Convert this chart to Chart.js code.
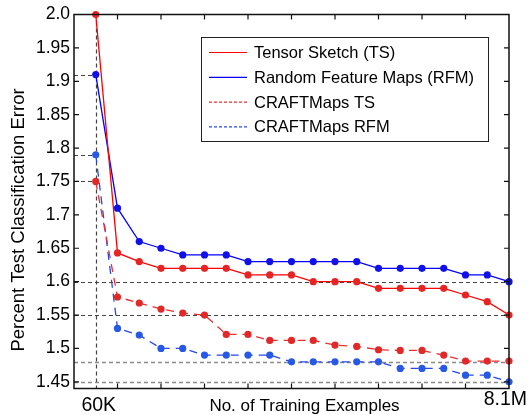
<!DOCTYPE html>
<html>
<head>
<meta charset="utf-8">
<script src="https://cdn.jsdelivr.net/npm/chart.js@4/dist/chart.umd.min.js"></script>
<style>
  html, body { margin: 0; padding: 0; background: #fff; }
  #wrap { width: 528px; height: 415px; }
</style>
</head>
<body>
<div id="wrap"><canvas id="errChart" width="528" height="415"></canvas></div>
<script>
// training set size steps (60K ... 8.1M), one point per step
const steps = [0, 1, 2, 3, 4, 5, 6, 7, 8, 9, 10, 11, 12, 13, 14, 15, 16, 17, 18, 19];
const xTickValues = [0, 19];
const xTickLabels = ['60K', '8.1M'];
const xMinorTicks = [1, 3, 5, 7, 9, 11, 13, 15, 17];

const yTickValues = [1.45, 1.5, 1.55, 1.6, 1.65, 1.7, 1.75, 1.8, 1.85, 1.9, 1.95, 2.0];
const yTickLabels = ['1.45', '1.5', '1.55', '1.6', '1.65', '1.7', '1.75', '1.8', '1.85', '1.9', '1.95', '2.0'];

const seriesNames = ['Tensor Sketch (TS)', 'Random Feature Maps (RFM)', 'CRAFTMaps TS', 'CRAFTMaps RFM'];
const tsErr = [2.0, 1.643, 1.63, 1.62, 1.62, 1.62, 1.62, 1.61, 1.61, 1.61, 1.60, 1.60, 1.60, 1.59, 1.59, 1.59, 1.59, 1.58, 1.57, 1.55];
const rfmErr = [1.91, 1.71, 1.66, 1.65, 1.64, 1.64, 1.64, 1.63, 1.63, 1.63, 1.63, 1.63, 1.63, 1.62, 1.62, 1.62, 1.62, 1.61, 1.61, 1.60];
const craftTsErr = [1.75, 1.577, 1.568, 1.559, 1.553, 1.55, 1.521, 1.521, 1.512, 1.512, 1.512, 1.505, 1.503, 1.498, 1.497, 1.497, 1.49, 1.481, 1.481, 1.481];
const craftRfmErr = [1.79, 1.53, 1.52, 1.50, 1.50, 1.49, 1.49, 1.49, 1.49, 1.48, 1.48, 1.48, 1.48, 1.48, 1.47, 1.47, 1.47, 1.46, 1.46, 1.45];

// dashed reference levels
const fullGuidesDark = [1.6, 1.55];
const fullGuidesLight = [1.48, 1.45];
const shortGuides = [1.91, 1.79, 1.75];

const FONT = "'Liberation Sans', Arial, sans-serif";

function toPoints(vals) {
    return vals.map((v, i) => ({ x: steps[i], y: v }));
}

const lineStyles = [
    { line: 'rgb(255,0,0)', point: 'rgb(230,36,36)', dash: [] },
    { line: 'rgb(0,0,255)', point: 'rgb(16,16,235)', dash: [] },
    { line: 'rgb(232,48,48)', point: 'rgb(226,40,40)', dash: [8, 6] },
    { line: 'rgb(40,72,232)', point: 'rgb(40,88,230)', dash: [8, 6] }
];
const legendDash = [[], [], [3, 2], [3, 2]];

const allSeries = [tsErr, rfmErr, craftTsErr, craftRfmErr];

// guides + frame drawn with the scales
const framePlugin = {
    id: 'framePlugin',
    beforeDatasetsDraw(chart) {
        const { ctx, chartArea: a, scales: { x, y } } = chart;
        ctx.save();
        ctx.lineWidth = 1.2;
        ctx.setLineDash([4, 3]);
        const x0 = x.getPixelForValue(steps[0]);
        ctx.strokeStyle = '#444';
        fullGuidesDark.forEach(v => {
            const py = Math.round(y.getPixelForValue(v)) + 0.5;
            ctx.beginPath(); ctx.moveTo(a.left, py); ctx.lineTo(a.right, py); ctx.stroke();
        });
        shortGuides.forEach(v => {
            const py = Math.round(y.getPixelForValue(v)) + 0.5;
            ctx.beginPath(); ctx.moveTo(a.left, py); ctx.lineTo(x0, py); ctx.stroke();
        });
        ctx.beginPath(); ctx.moveTo(Math.round(x0) + 0.5, a.top); ctx.lineTo(Math.round(x0) + 0.5, a.bottom); ctx.stroke();
        ctx.strokeStyle = '#8a8a8a';
        ctx.lineWidth = 1.5;
        fullGuidesLight.forEach(v => {
            const py = Math.round(y.getPixelForValue(v)) + 0.5;
            ctx.beginPath(); ctx.moveTo(a.left, py); ctx.lineTo(a.right, py); ctx.stroke();
        });
        ctx.restore();
    },
    afterDatasetsDraw(chart) {
        const { ctx, chartArea: a, scales: { x, y } } = chart;
        ctx.save();
        ctx.strokeStyle = '#111';
        ctx.lineWidth = 1.5;
        ctx.setLineDash([]);
        ctx.strokeRect(a.left, a.top, a.right - a.left, a.bottom - a.top);
        // inward tick marks
        ctx.lineWidth = 1.2;
        yTickValues.forEach(v => {
            const py = y.getPixelForValue(v);
            ctx.beginPath();
            ctx.moveTo(a.left, py); ctx.lineTo(a.left + 5, py);
            ctx.moveTo(a.right, py); ctx.lineTo(a.right - 5, py);
            ctx.stroke();
        });
        xMinorTicks.forEach(v => {
            const px = x.getPixelForValue(v);
            ctx.beginPath();
            ctx.moveTo(px, a.bottom); ctx.lineTo(px, a.bottom - 5);
            ctx.moveTo(px, a.top); ctx.lineTo(px, a.top + 5);
            ctx.stroke();
        });

        // x tick labels
        ctx.fillStyle = '#000';
        ctx.font = '19.5px ' + FONT;
        ctx.textBaseline = 'alphabetic';
        ctx.textAlign = 'center';
        ctx.fillText(xTickLabels[0], x.getPixelForValue(xTickValues[0]) + 3, 411);
        ctx.textAlign = 'right';
        ctx.fillText(xTickLabels[1], x.getPixelForValue(xTickValues[1]) + 18, 405);

        // axis titles
        ctx.font = '17px ' + FONT;
        ctx.textAlign = 'center';
        ctx.fillText('No. of Training Examples', (a.left + a.right) / 2 + 13, 411);
        ctx.save();
        ctx.translate(19, 220);
        ctx.rotate(-Math.PI / 2);
        ctx.font = '18.5px ' + FONT;
        ctx.textBaseline = 'middle';
        ctx.fillText('Percent Test Classification Error', 0, 0);
        ctx.restore();

        // legend box
        const bx = 201, by = 37, bw = 287, bh = 104;
        ctx.fillStyle = '#fff';
        ctx.fillRect(bx, by, bw, bh);
        ctx.strokeStyle = '#222';
        ctx.lineWidth = 1;
        ctx.strokeRect(bx + 0.5, by + 0.5, bw, bh);
        ctx.font = '16.5px ' + FONT;
        ctx.textAlign = 'left';
        ctx.textBaseline = 'middle';
        seriesNames.forEach((name, i) => {
            const ry = by + 15.5 + i * 24.8;
            ctx.strokeStyle = lineStyles[i].line;
            ctx.lineWidth = 1.2;
            ctx.setLineDash(legendDash[i]);
            ctx.beginPath(); ctx.moveTo(209, ry); ctx.lineTo(247, ry); ctx.stroke();
            ctx.setLineDash([]);
            ctx.fillStyle = '#000';
            ctx.fillText(name, 254, ry + 1);
        });
        ctx.restore();
    }
};

new Chart(document.getElementById('errChart'), {
    type: 'line',
    data: {
        datasets: allSeries.map((vals, i) => ({
            label: seriesNames[i],
            data: toPoints(vals),
            borderColor: lineStyles[i].line,
            backgroundColor: lineStyles[i].point,
            pointBackgroundColor: lineStyles[i].point,
            pointBorderWidth: 0,
            pointRadius: 3.6,
            borderWidth: 1.3,
            borderDash: lineStyles[i].dash,
            tension: 0,
            clip: false
        }))
    },
    options: {
        responsive: false,
        animation: false,
        devicePixelRatio: 1,
        layout: { padding: { top: 13, right: 19, left: 0, bottom: 0 } },
        plugins: {
            legend: { display: false },
            tooltip: { enabled: false }
        },
        scales: {
            x: {
                type: 'linear',
                min: -1,
                max: 19,
                grid: { display: false, drawTicks: false },
                border: { display: false },
                ticks: { display: false },
                afterBuildTicks(scale) {
                    scale.ticks = xTickValues.map(v => ({ value: v }));
                },
                afterFit(scale) {
                    scale.height = 26.5;
                    scale.paddingLeft = 0;
                    scale.paddingRight = 0;
                }
            },
            y: {
                type: 'linear',
                min: 1.44,
                max: 2.0,
                grid: { display: false, drawTicks: false },
                border: { display: false },
                ticks: {
                    color: '#000',
                    padding: 4,
                    font: { family: FONT, size: 17.5 },
                    callback: function(value, index) {
                        return yTickLabels[index];
                    }
                },
                afterBuildTicks(scale) {
                    scale.ticks = yTickValues.map(v => ({ value: v }));
                },
                afterFit(scale) {
                    scale.width = 74;
                }
            }
        }
    },
    plugins: [framePlugin]
});
</script>
</body>
</html>
